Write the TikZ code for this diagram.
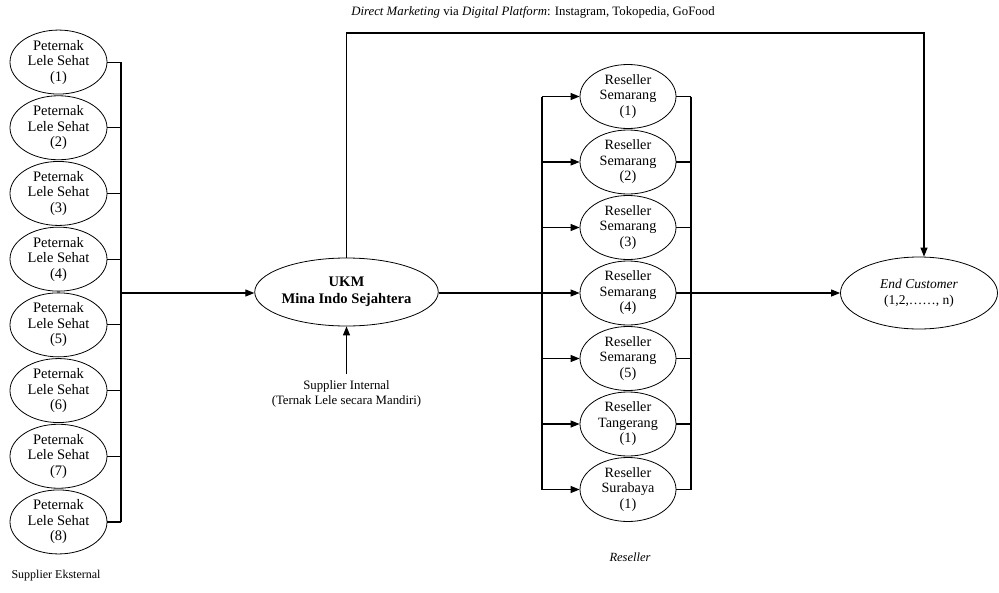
\documentclass[tikz,border=0pt]{standalone}
\usepackage{fontspec}
\setmainfont{Liberation Serif}
\usetikzlibrary{shapes.geometric,arrows.meta}
\begin{document}
\begin{tikzpicture}[x=1pt,y=-1pt,line width=1.1pt,
  ell/.style={ellipse,draw,line width=0.8pt,inner sep=0pt,align=center,
    font=\fontsize{14.5}{15.5}\selectfont},
  lell/.style={ell,minimum width=97pt,minimum height=64pt},
  rell/.style={ell,minimum width=96pt,minimum height=64pt,font=\fontsize{14.2}{15.5}\selectfont},
  arr/.style={-{Triangle[length=9pt,width=7pt]}},
  lbl/.style={font=\fontsize{12}{14}\selectfont,align=center,inner sep=0pt}]
\useasboundingbox (0,0) rectangle (999,592);

% left suppliers
\foreach \i in {1,...,8}{
  \node[lell] (p\i) at (58.5,{292+65.7*(\i-4.5)}) {Peternak\\Lele Sehat\\(\i)};
}
\coordinate (lb1) at (121,{292+65.7*(1-4.5)});
\coordinate (lb8) at (121,{292+65.7*(8-4.5)});
\coordinate (lbm) at (121,293);
\draw (lb1) -- (lb8);
\foreach \i in {1,...,8}{ \draw (p\i.east) -- (p\i.east -| lbm); }

% UKM
\node[ell,minimum width=165pt,minimum height=68pt,font=\fontsize{14.6}{17}\selectfont\bfseries] (ukm) at (346.5,292) {UKM\\Mina Indo Sejahtera};
\draw[arr] (lbm) -- (lbm -| ukm.west);

% supplier internal
\node[lbl,font=\fontsize{12.8}{14.5}\selectfont] (si) at (346.5,394) {Supplier Internal\\(Ternak Lele secara Mandiri)};
\coordinate (sit) at (346.5,374);
\draw[arr] (sit) -- (ukm.south);

% resellers
\node[rell] (r1) at (628,{293+65.5*(1-4)}) {Reseller\\Semarang\\(1)};
\node[rell] (r2) at (628,{293+65.5*(2-4)}) {Reseller\\Semarang\\(2)};
\node[rell] (r3) at (628,{293+65.5*(3-4)}) {Reseller\\Semarang\\(3)};
\node[rell] (r4) at (628,{293+65.5*(4-4)}) {Reseller\\Semarang\\(4)};
\node[rell] (r5) at (628,{293+65.5*(5-4)}) {Reseller\\Semarang\\(5)};
\node[rell] (r6) at (628,{293+65.5*(6-4)}) {Reseller\\Tangerang\\(1)};
\node[rell] (r7) at (628,{293+65.5*(7-4)}) {Reseller\\Surabaya\\(1)};
\coordinate (rl) at (542,293);
\coordinate (rr) at (691,293);
\draw (ukm.east |- rl) -- (rl);
\draw (rl |- r1) -- (rl |- r7);
\draw (rr |- r1) -- (rr |- r7);
\foreach \i in {1,...,7}{
  \draw[arr] (rl |- r\i) -- (r\i.west);
  \draw (r\i.east) -- (rr |- r\i);
}

% end customer
\node[ell,minimum width=157pt,minimum height=72pt,font=\fontsize{13.5}{16}\selectfont] (ec) at (919,293) {\textit{End Customer}\\(1,2,\dots\dots, n)};
\draw[arr] (rr) -- (ec.west);

% direct marketing
\coordinate (tl) at (346.5,33);
\coordinate (tr) at (924,33);
\draw[arr] (ukm.north) -- (tl) -- (tr) -- (tr |- ec.north);
\node[lbl,font=\fontsize{12.8}{14}\selectfont] (dm) at (533,12) {\textit{Direct Marketing} via \textit{Digital Platform}: Instagram, Tokopedia, GoFood};

% labels
\node[lbl,font=\fontsize{12.5}{14}\selectfont] (rs) at (630,557) {\textit{Reseller}};
\node[lbl] (se) at (56,576) {Supplier Eksternal};
\end{tikzpicture}
\end{document}
